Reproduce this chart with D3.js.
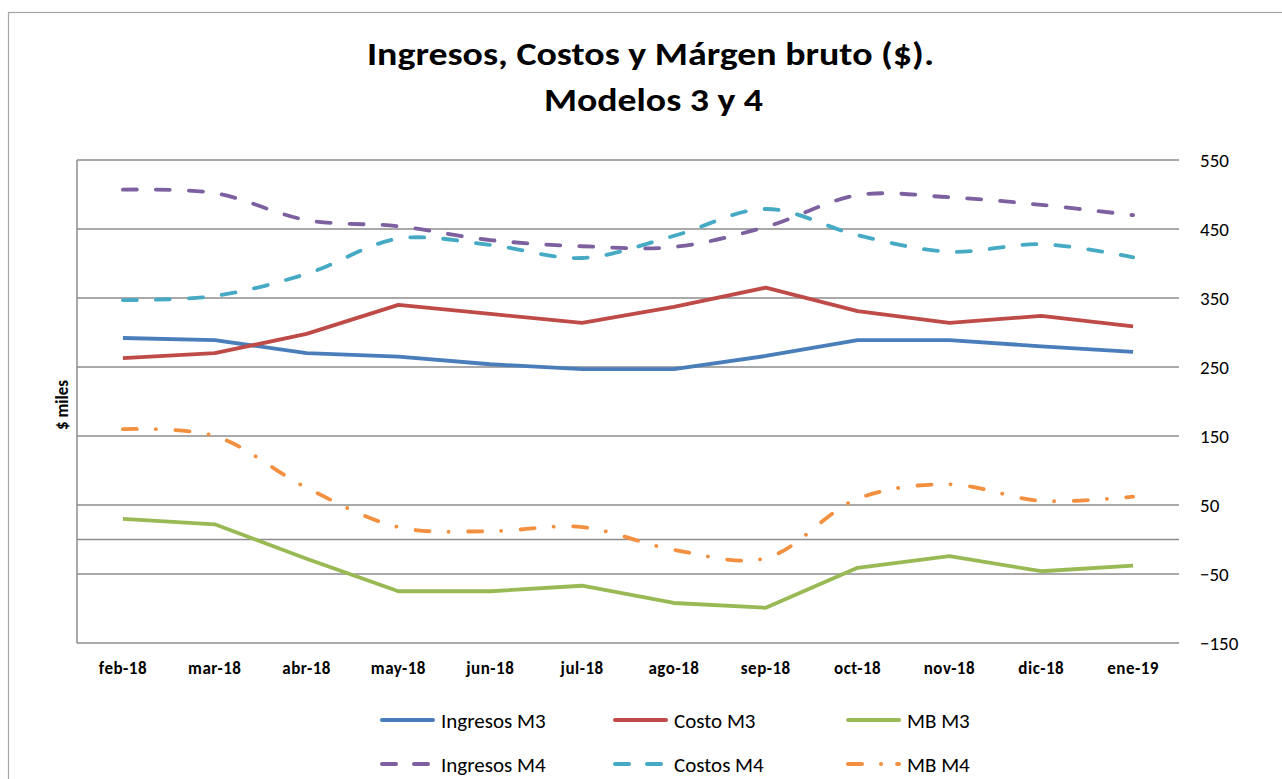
<!DOCTYPE html>
<meta charset="utf-8">
<title>Ingresos, Costos y Márgen bruto</title>
<style>
body {
  margin: 0;
  background: #fff;
  font-family: Carlito, Lato, "Open Sans", sans-serif;
}
.grid line { stroke: #8c8c8c; stroke-width: 1.5px; }
.axis text { fill: #000; }
</style>
<body>
<script src="https://cdn.jsdelivr.net/npm/d3@7"></script>
<script>
'use strict';

const months = ["feb-18", "mar-18", "abr-18", "may-18", "jun-18", "jul-18",
                "ago-18", "sep-18", "oct-18", "nov-18", "dic-18", "ene-19"];

const ingresosM3 = [292, 289, 270, 265, 254, 247, 247, 266, 289, 289, 280, 272];
const costoM3    = [263, 270, 298, 340, 327, 314, 337, 365, 331, 314, 324, 309];
const mbM3       = [30, 22, -28, -75, -75, -67, -92, -99, -41, -24, -46, -38];
const ingresosM4 = [507, 502, 463, 454, 434, 425, 424, 453, 499, 496, 485, 470];
const costosM4   = [347, 353, 385, 436, 427, 408, 440, 479, 441, 417, 428, 409];
const mbM4       = [160, 150, 75, 18, 12, 18, -15, -27, 59, 80, 56, 62];

const yTicks = [-150, -50, 50, 150, 250, 350, 450, 550];

const series = [
  {name: "Ingresos M3", values: ingresosM3, color: "#4a7ebb", dash: null, smooth: false},
  {name: "Costo M3",    values: costoM3,    color: "#be4b48", dash: null, smooth: false},
  {name: "MB M3",       values: mbM3,       color: "#98b954", dash: null, smooth: false},
  {name: "Ingresos M4", values: ingresosM4, color: "#7d60a0", dash: "14,19", smooth: true},
  {name: "Costos M4",   values: costosM4,   color: "#46aac5", dash: "14,19", smooth: true},
  {name: "MB M4",       values: mbM4,       color: "#f39040", dash: "14,19,0.1,19.5", smooth: true}
];

const W = 1282, H = 779;
const plot = {left: 77, right: 1179, top: 160, bottom: 643};

const svg = d3.select("body").append("svg")
    .attr("width", W)
    .attr("height", H);

// chart area border
svg.append("rect")
    .attr("x", 8.5).attr("y", 12.5)
    .attr("width", W + 20).attr("height", H + 20)
    .attr("fill", "none")
    .attr("stroke", "#a6a6a6")
    .attr("stroke-width", 1.2);

const x = d3.scaleBand().domain(months).range([plot.left, plot.right]);
const y = d3.scaleLinear().domain([-150, 550]).range([plot.bottom, plot.top]);
const cx = (m) => x(m) + x.bandwidth() / 2;

// title (glyphs stretched a bit to the width of the original)
svg.append("text")
    .attr("x", 367).attr("y", 65)
    .attr("textLength", 567)
    .attr("lengthAdjust", "spacingAndGlyphs")
    .style("font-weight", "bold")
    .style("font-size", "33px")
    .text("Ingresos, Costos y Márgen bruto ($).");
svg.append("text")
    .attr("x", 544).attr("y", 111)
    .attr("textLength", 219)
    .attr("lengthAdjust", "spacingAndGlyphs")
    .style("font-weight", "bold")
    .style("font-size", "33px")
    .text("Modelos 3 y 4");

// gridlines
svg.append("g")
    .attr("class", "grid")
    .selectAll("line")
    .data(yTicks.concat([0]))
  .enter().append("line")
    .attr("x1", plot.left).attr("x2", plot.right)
    .attr("y1", (d) => y(d)).attr("y2", (d) => y(d));

svg.append("line")
    .attr("x1", plot.left).attr("x2", plot.left)
    .attr("y1", plot.top).attr("y2", plot.bottom)
    .attr("stroke", "#8c8c8c").attr("stroke-width", 1.5);

// right value axis
const yAxis = svg.append("g")
    .attr("class", "axis")
    .attr("transform", "translate(" + plot.right + ",0)")
    .call(d3.axisRight(y).tickValues(yTicks).tickSize(0).tickPadding(21));
yAxis.select(".domain").remove();
yAxis.selectAll("text")
    .style("font-family", "Carlito, Lato, sans-serif")
    .style("font-size", "19px");

// category axis
const xAxis = svg.append("g")
    .attr("class", "axis")
    .attr("transform", "translate(0," + plot.bottom + ")")
    .call(d3.axisBottom(x).tickSize(0).tickPadding(19));
xAxis.select(".domain").remove();
xAxis.selectAll("text")
    .style("font-family", "Carlito, Lato, sans-serif")
    .style("font-size", "17px")
    .style("letter-spacing", "0.5px")
    .style("font-weight", "bold");

// y axis title
svg.append("text")
    .attr("transform", "translate(68,405) rotate(-90)")
    .attr("text-anchor", "middle")
    .style("font-weight", "bold")
    .style("font-size", "17px")
    .text("$ miles");

// lines
const straight = d3.line().x((d, i) => cx(months[i])).y((d) => y(d));
const curved = d3.line().x((d, i) => cx(months[i])).y((d) => y(d)).curve(d3.curveCatmullRom);

svg.append("g").selectAll("path")
    .data(series)
  .enter().append("path")
    .attr("d", (s) => (s.smooth ? curved : straight)(s.values))
    .attr("fill", "none")
    .attr("stroke", (s) => s.color)
    .attr("stroke-width", 3.8)
    .attr("stroke-linecap", (s) => s.dash ? "round" : "butt")
    .attr("stroke-linejoin", "round")
    .attr("stroke-dasharray", (s) => s.dash);

// legend
const legend = svg.append("g").selectAll("g")
    .data(series)
  .enter().append("g")
    .attr("transform", (s, i) => "translate(" + (380 + (i % 3) * 233) + "," + (720 + Math.floor(i / 3) * 44) + ")");

legend.append("line")
    .attr("x1", 2).attr("x2", 53)
    .attr("stroke", (s) => s.color)
    .attr("stroke-width", 4)
    .attr("stroke-linecap", "round")
    .attr("stroke-dasharray", (s) => s.dash ? (s.name === "MB M4" ? "14,19,0.1,16" : "14,18") : null);

legend.append("text")
    .attr("x", 61).attr("dy", "0.36em")
    .style("font-size", "21px")
    .text((s) => s.name);
</script>
</body>
